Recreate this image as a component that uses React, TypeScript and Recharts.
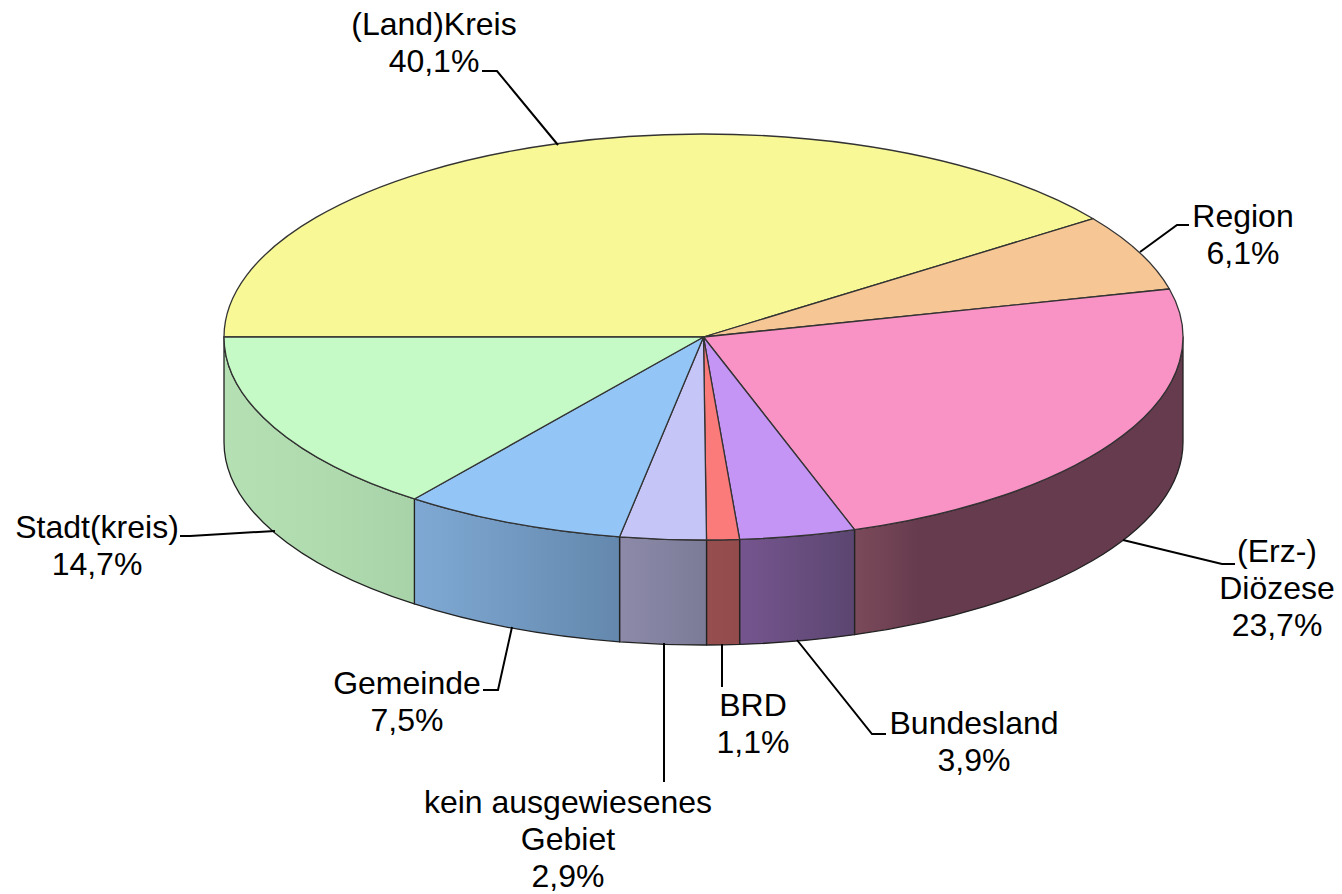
import { PieChart, Pie } from "recharts"

const categories = ["(Land)Kreis", "Region", "(Erz-) Diözese", "Bundesland", "BRD", "kein ausgewiesenes Gebiet", "Gemeinde", "Stadt(kreis)"]
const shares = [40.1, 6.1, 23.7, 3.9, 1.1, 2.9, 7.5, 14.7]
const topColors = ["#f8f896", "#f7c695", "#f993c6", "#c595f6", "#fb7b7a", "#c5c5f8", "#94c5f7", "#c5f9c5"]

// wall shading, left to right: [offset, colour]
const wallStops: [number, string][][] = [
  [[0, "#cccc7a"], [1, "#cccc7a"]],
  [[0, "#cca37a"], [1, "#cca37a"]],
  [[0, "#7b4a5a"], [0.2, "#663b4e"], [1, "#663b4e"]],
  [[0, "#76558f"], [1, "#5b4670"]],
  [[0, "#974e4e"], [1, "#934b4b"]],
  [[0, "#8c8aa8"], [1, "#7b7b98"]],
  [[0, "#7fa9d4"], [1, "#6488ad"]],
  [[0, "#b4e0b4"], [0.6, "#aedaae"], [1, "#a8d2a8"]],
]

const labelLines = [
  ["(Land)Kreis"],
  ["Region"],
  ["(Erz-)", "Diözese"],
  ["Bundesland"],
  ["BRD"],
  ["kein ausgewiesenes", "Gebiet"],
  ["Gemeinde"],
  ["Stadt(kreis)"],
]

// text anchor (centre x, first baseline) and leader line for each label
const labelAnchors = [
  { x: 434, y: 35, leader: "482,71 497,71 558,145" },
  { x: 1243, y: 227, leader: "1140,252 1177,225 1189,225" },
  { x: 1277, y: 562, leader: "1123,540 1222,564 1235,564" },
  { x: 974, y: 734, leader: "797,640 872,734 886,734" },
  { x: 753, y: 716, leader: "722,644 722,687" },
  { x: 568, y: 813, leader: "664,643 664,782" },
  { x: 407, y: 694, leader: "512,627 498,690 483,690" },
  { x: 97, y: 538, leader: "275,531 190,536 180,536" },
]

const tableData = categories.map((name, i) => ({ name, value: shares[i], idx: i }))

const CX = 703.5
const CY = 337
const RX = 479.5
const RY = 203
const DEPTH = 105
const LINE_H = 37

const pt = (deg: number, dy = 0) => {
  const a = (deg * Math.PI) / 180
  return `${CX + RX * Math.cos(a)},${CY - RY * Math.sin(a) + dy}`
}

function TopSlice(props: any) {
  const { startAngle, endAngle, payload } = props
  const large = startAngle - endAngle > 180 ? 1 : 0
  const d = `M${CX},${CY} L${pt(startAngle)} A${RX},${RY} 0 ${large} 1 ${pt(endAngle)} Z`
  return <path d={d} fill={topColors[payload.idx]} stroke="#333" strokeWidth={1.3} strokeLinejoin="round" />
}

function WallSlice(props: any) {
  const { startAngle, endAngle, payload } = props
  const s = Math.min(startAngle, 0)
  const e = Math.max(endAngle, -180)
  if (s <= e) return <g />
  const d = `M${pt(s)} A${RX},${RY} 0 0 1 ${pt(e)} L${pt(e, DEPTH)} A${RX},${RY} 0 0 0 ${pt(s, DEPTH)} Z`
  return <path d={d} fill={`url(#wall-${payload.idx})`} stroke="#222" strokeWidth={1.3} strokeLinejoin="round" />
}

function SliceLabel(props: any) {
  const i = props.payload?.idx ?? props.index
  const pos = labelAnchors[i]
  const lines = [...labelLines[i], `${shares[i].toFixed(1).replace(".", ",")}%`]
  return (
    <g>
      <polyline points={pos.leader} fill="none" stroke="#000" strokeWidth={2} />
      <text textAnchor="middle" fontFamily="'Liberation Sans', Arial, sans-serif" fontSize={32} fill="#000">
        {lines.map((t, k) => (
          <tspan key={k} x={pos.x} y={pos.y + k * LINE_H}>{t}</tspan>
        ))}
      </text>
    </g>
  )
}

export default function App() {
  return (
    <div style={{ position: "absolute", left: 0, top: 0, width: 1342, height: 894, background: "#fff" }}>
      <PieChart width={1342} height={894} margin={{ top: 0, right: 0, bottom: 0, left: 0 }}>
        <defs>
          {wallStops.map((stops, i) => (
            <linearGradient key={i} id={`wall-${i}`} x1="0" y1="0" x2="1" y2="0">
              {stops.map(([o, c], k) => <stop key={k} offset={o} stopColor={c} />)}
            </linearGradient>
          ))}
        </defs>
        <Pie
          data={tableData}
          dataKey="value"
          nameKey="name"
          cx={CX}
          cy={CY}
          outerRadius={RX}
          startAngle={180}
          endAngle={-180}
          shape={WallSlice}
          isAnimationActive={false}
        />
        <Pie
          data={tableData}
          dataKey="value"
          nameKey="name"
          cx={CX}
          cy={CY}
          outerRadius={RX}
          startAngle={180}
          endAngle={-180}
          shape={TopSlice}
          label={SliceLabel}
          labelLine={false}
          isAnimationActive={false}
        />
      </PieChart>
    </div>
  )
}
